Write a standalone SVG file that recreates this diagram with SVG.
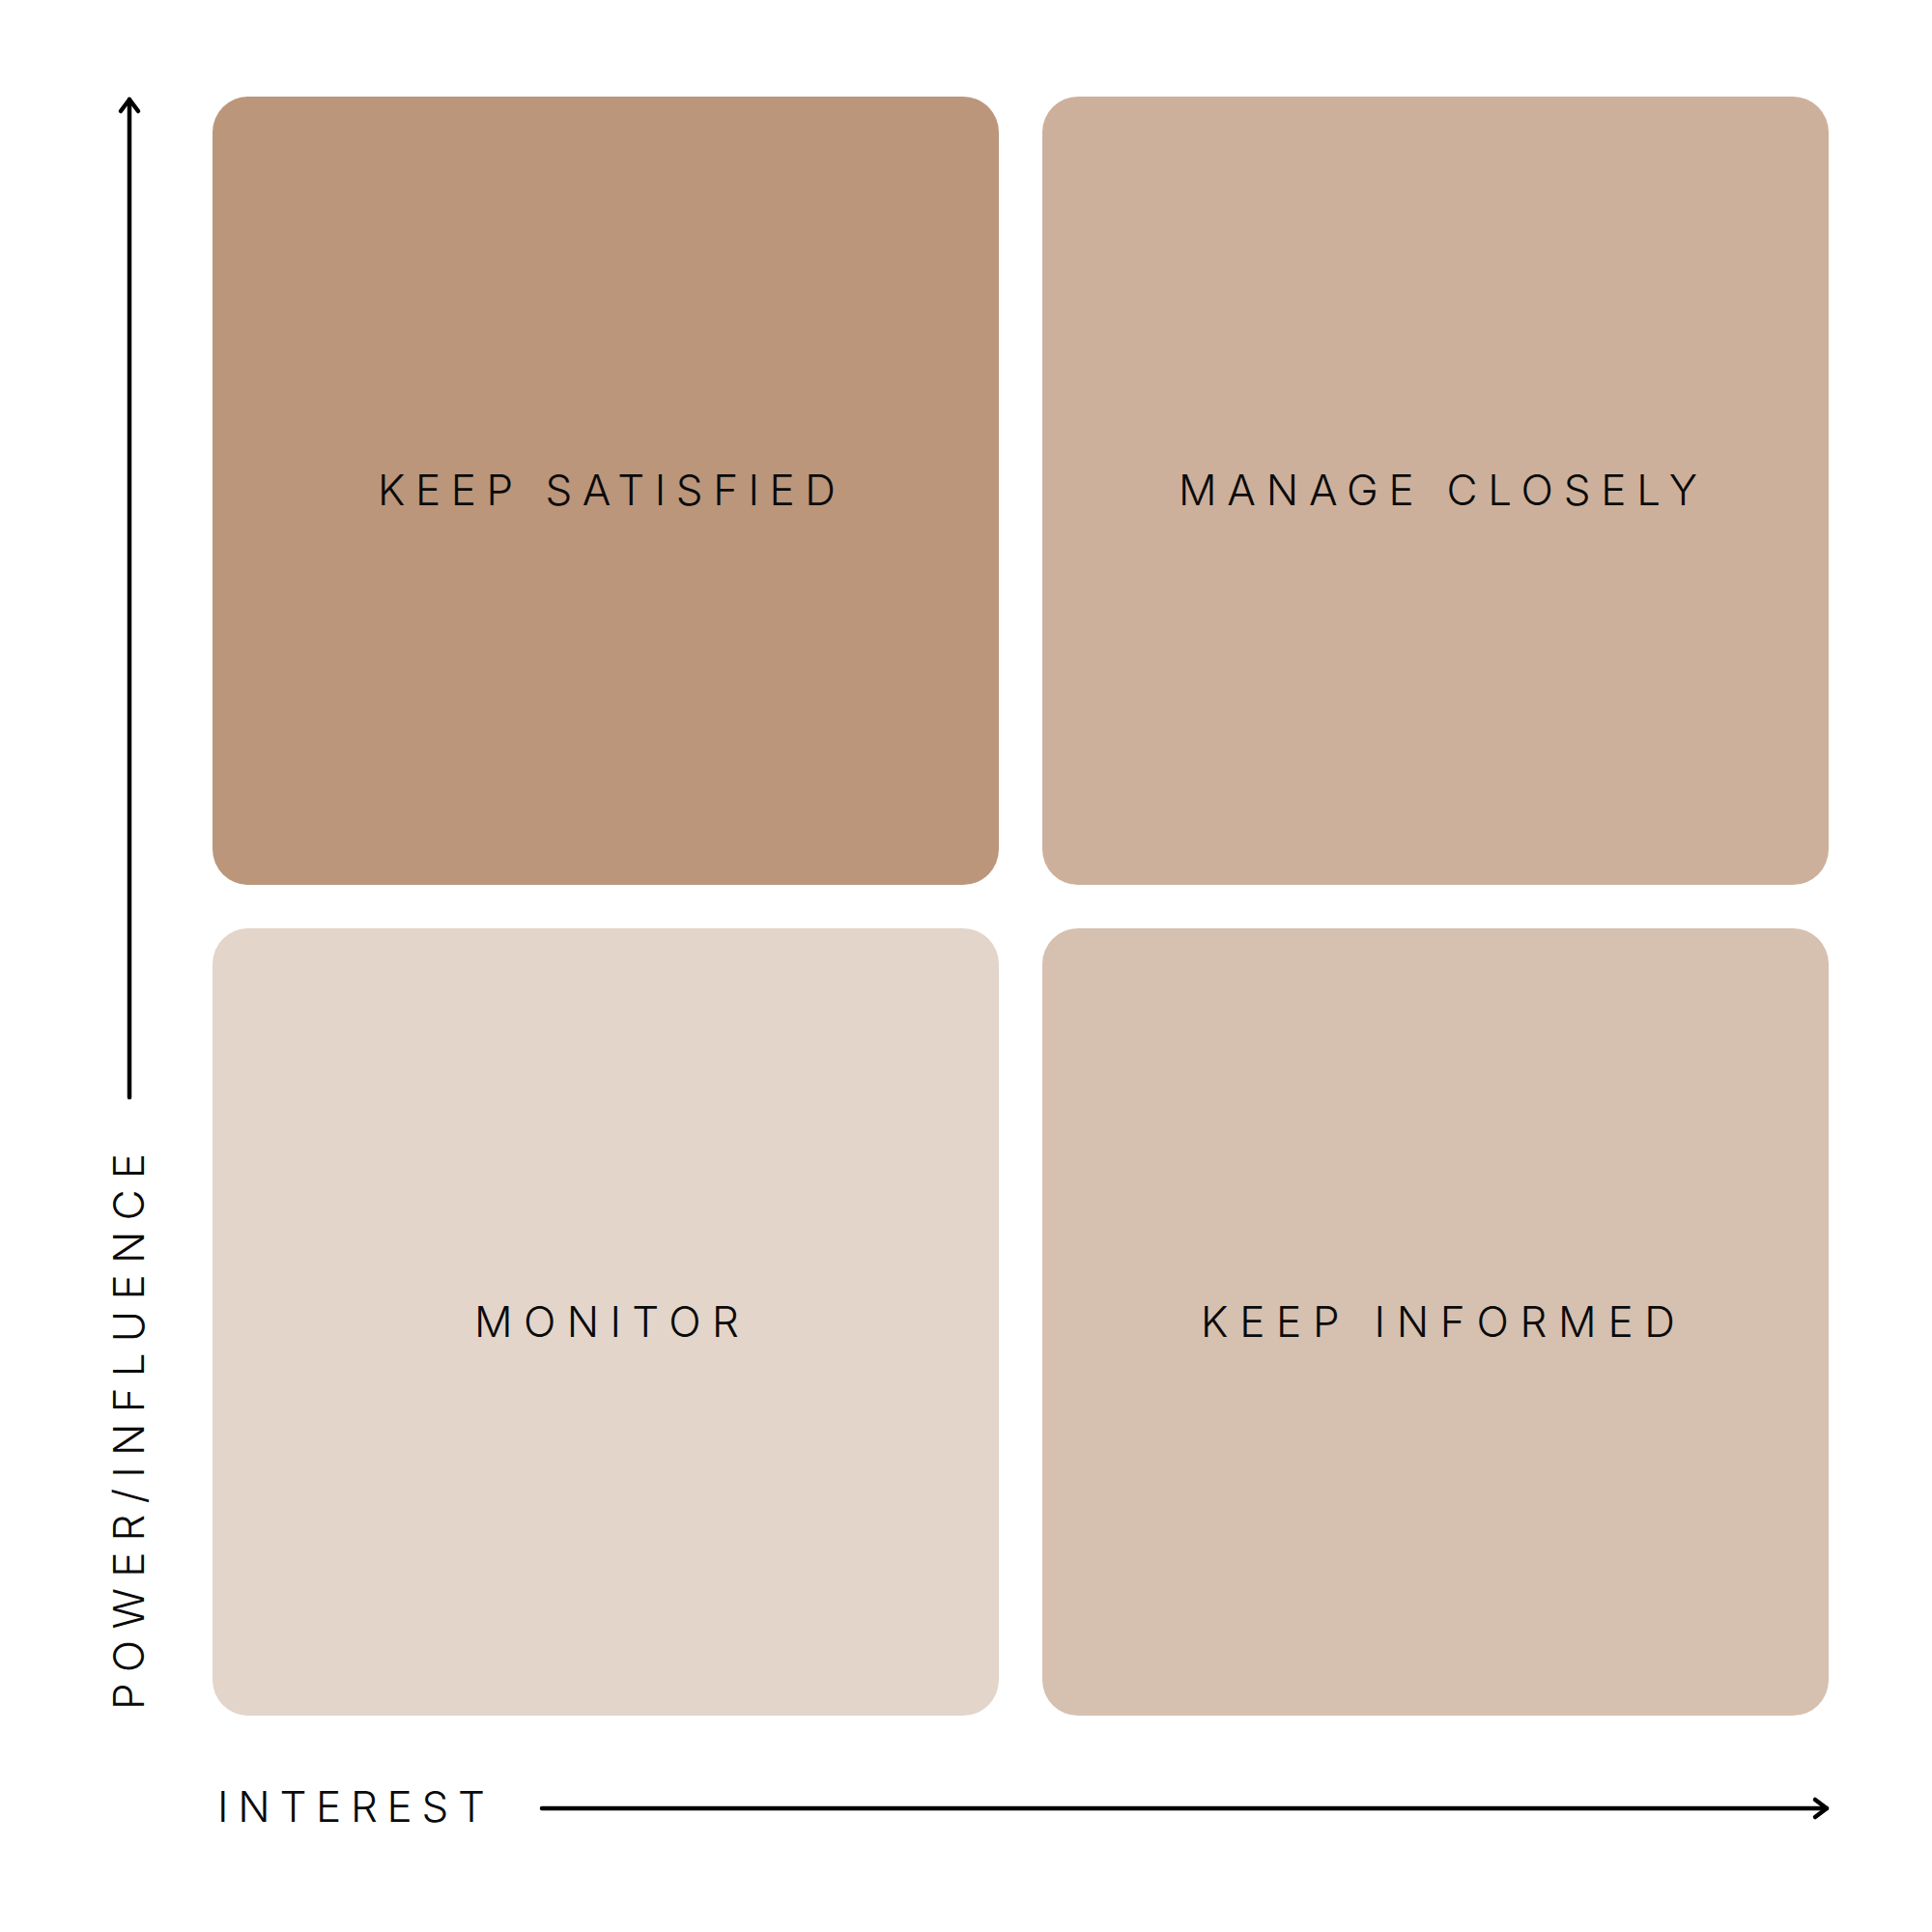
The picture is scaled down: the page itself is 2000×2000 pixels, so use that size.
<svg xmlns="http://www.w3.org/2000/svg" width="2000" height="2000" viewBox="0 0 2000 2000">
  <style>
    .lbl { font-family: Inter, "Noto Sans", "Liberation Sans", sans-serif; font-size: 44px; font-weight: 300; fill: #0a0a0a; }
    .axis { stroke: #000; stroke-width: 4.5; fill: none; stroke-linecap: round; }
  </style>
  <defs>
    <marker id="chev" markerUnits="userSpaceOnUse" markerWidth="40" markerHeight="40" viewBox="-20 -20 40 40" refX="0" refY="0" orient="auto">
      <path d="M-12,-9 L0,0 L-12,9" fill="none" stroke="#000" stroke-width="4.5" stroke-linecap="round" stroke-linejoin="round"/>
    </marker>
  </defs>
  <rect width="2000" height="2000" fill="#ffffff"/>

  <g id="keep-satisfied">
    <rect x="220" y="100" width="814" height="816" rx="37" fill="#BB967B"/>
    <text class="lbl" x="391" y="523" textLength="474" lengthAdjust="spacing">KEEP SATISFIED</text>
  </g>
  <g id="manage-closely">
    <rect x="1079" y="100" width="814" height="816" rx="37" fill="#CDB09B"/>
    <text class="lbl" x="1220" y="523" textLength="537" lengthAdjust="spacing">MANAGE CLOSELY</text>
  </g>
  <g id="monitor">
    <rect x="220" y="961" width="814" height="815" rx="37" fill="#E3D5CA"/>
    <text class="lbl" x="491" y="1384" textLength="274" lengthAdjust="spacing">MONITOR</text>
  </g>
  <g id="keep-informed">
    <rect x="1079" y="961" width="814" height="815" rx="37" fill="#D6C0AF"/>
    <text class="lbl" x="1243" y="1384" textLength="491" lengthAdjust="spacing">KEEP INFORMED</text>
  </g>

  <g id="connectors">
    <line class="axis" x1="134" y1="1136" x2="134" y2="103" marker-end="url(#chev)"/>
    <line class="axis" x1="561" y1="1872" x2="1891" y2="1872" marker-end="url(#chev)"/>
  </g>

  <g id="axis-labels">
    <text class="lbl" x="225" y="1886" textLength="277" lengthAdjust="spacing">INTEREST</text>
    <text class="lbl" transform="translate(149,1770) rotate(-90)" x="0" y="0" textLength="576" lengthAdjust="spacing">POWER/INFLUENCE</text>
  </g>
</svg>
